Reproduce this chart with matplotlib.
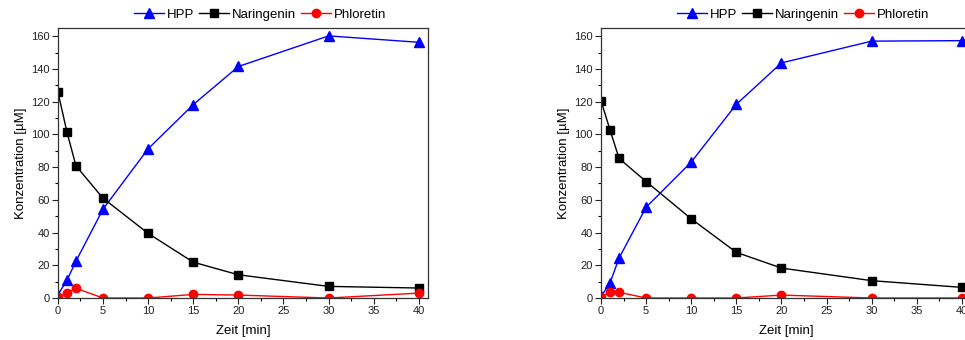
import matplotlib
matplotlib.use("Agg")
import matplotlib.pyplot as plt
from matplotlib.ticker import MultipleLocator

plt.rcParams['font.family'] = ['Liberation Sans', 'DejaVu Sans']

zeit = [0, 1, 2, 5, 10, 15, 20, 30, 40]

# left panel
hpp_a = [2, 10.8, 22.5, 54.3, 91.2, 118.2, 141.5, 160.2, 156.3]
nar_a = [126, 101.5, 80.8, 61, 39.5, 21.9, 14.2, 7.1, 6.1]
phl_a = [0.5, 3.3, 5.9, 0, 0, 2.2, 1.8, 0, 3.0]

# right panel
hpp_b = [1, 9.2, 24.4, 55.5, 83.1, 118.4, 143.7, 157, 157.3]
nar_b = [120.6, 102.7, 85.3, 71.2, 48.4, 27.9, 18.3, 10.6, 6.5]
phl_b = [0.5, 3.9, 3.5, 0, 0, 0, 1.8, 0, 0]

fig = plt.figure(figsize=(9.65, 3.4), dpi=100)
ax1 = fig.add_axes([0.060, 0.1235, 0.3834, 0.794])
ax2 = fig.add_axes([0.6228, 0.1235, 0.3834, 0.794])

for ax, hpp, nar, phl in [(ax1, hpp_a, nar_a, phl_a), (ax2, hpp_b, nar_b, phl_b)]:
    ax.plot(zeit, hpp, color='#0000ff', marker='^', markersize=6.5, lw=1, label='HPP')
    ax.plot(zeit, nar, color='black', marker='s', markersize=5.5, lw=1, label='Naringenin')
    ax.plot(zeit, phl, color='#ff0000', marker='o', markersize=6, lw=1, label='Phloretin')
    ax.set_xlim(0, 41)
    ax.set_ylim(0, 165)
    ax.xaxis.set_major_locator(MultipleLocator(5))
    ax.xaxis.set_minor_locator(MultipleLocator(2.5))
    ax.yaxis.set_major_locator(MultipleLocator(20))
    ax.yaxis.set_minor_locator(MultipleLocator(10))
    ax.tick_params(which='major', length=4, width=0.8, labelsize=8, colors='#222222', pad=2)
    ax.tick_params(which='minor', length=2, width=0.8)
    for s in ax.spines.values():
        s.set_color('#333333')
        s.set_linewidth(0.9)
    ax.set_xlabel('Zeit [min]', fontsize=9.5, labelpad=6)
    ax.set_ylabel('Konzentration [µM]', fontsize=9.5, labelpad=3)
    ax.legend(loc='center', bbox_to_anchor=(0.546, 1.05), ncol=3, frameon=False,
              fontsize=9.5, handlelength=2.3, handletextpad=0.2, columnspacing=0.35,
              borderaxespad=0)

fig.savefig('out.png', dpi=100)
